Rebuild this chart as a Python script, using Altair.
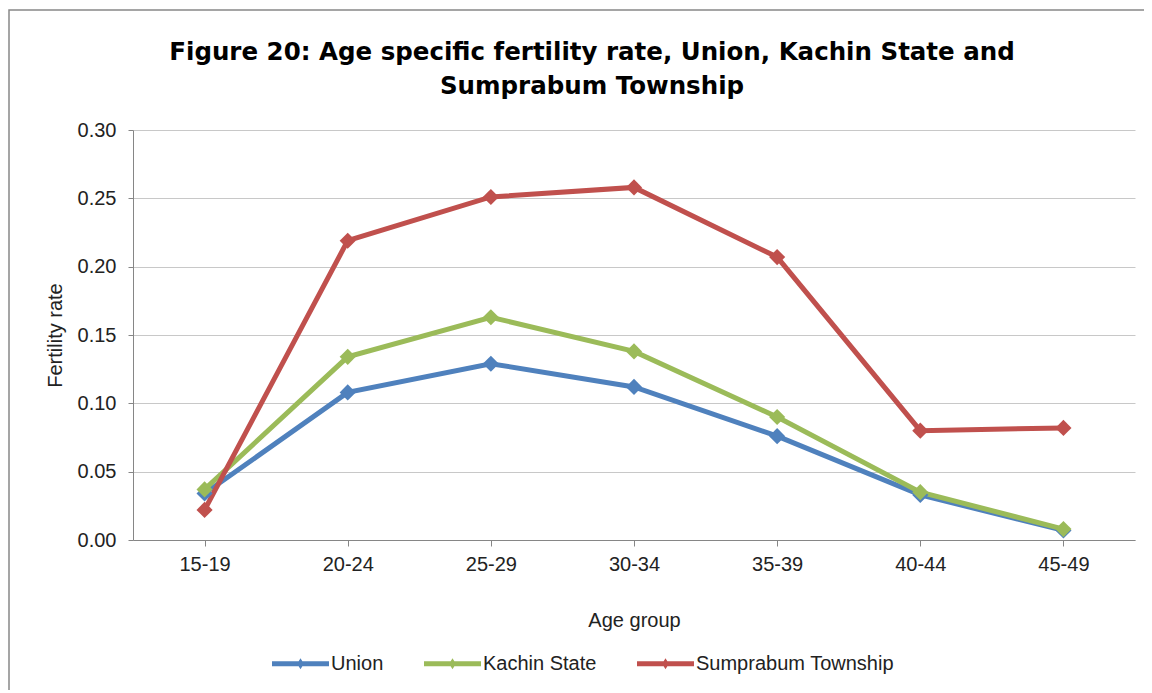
import altair as alt
import pandas as pd

ages = ["15-19", "20-24", "25-29", "30-34", "35-39", "40-44", "45-49"]
union = [0.034, 0.108, 0.129, 0.112, 0.076, 0.033, 0.007]
kachin = [0.037, 0.134, 0.163, 0.138, 0.090, 0.035, 0.008]
sumprabum = [0.022, 0.219, 0.251, 0.258, 0.207, 0.080, 0.082]
series = ["Union", "Kachin State", "Sumprabum Township"]
colors = ["#4F81BD", "#9BBB59", "#C0504D"]
title_lines = ["Figure 20: Age specific fertility rate, Union, Kachin State and",
               "Sumprabum  Township"]

rows = []
for name, vals in zip(series, [union, kachin, sumprabum]):
    for a, v in zip(ages, vals):
        rows.append({"Age group": a, "Fertility rate": v, "Series": name})
df = pd.DataFrame(rows)

W, H = 1002, 410
font = "Liberation Sans"
fs = 20

x = alt.X("Age group:N", sort=ages, scale=alt.Scale(paddingInner=0, paddingOuter=0),
          axis=alt.Axis(title="Age group", labelAngle=0, bandPosition=0, grid=False,
                        labelFontSize=fs, titleFontSize=fs, titleFontWeight="normal",
                        labelColor="#222", titleColor="#222", labelPadding=8, titlePadding=36,
                        domainColor="#868686", tickColor="#868686", tickSize=6,
                        labelBound=False, labelFlush=False))
y = alt.Y("Fertility rate:Q", scale=alt.Scale(domain=[0, 0.30], nice=False),
          axis=alt.Axis(title="Fertility rate", values=[0, 0.05, 0.1, 0.15, 0.2, 0.25, 0.3],
                        format=".2f", labelFontSize=fs, titleFontSize=fs, titleFontWeight="normal",
                        labelColor="#222", titleColor="#222", labelPadding=12, titlePadding=12,
                        gridColor="#C8C8C8", domainColor="#868686", tickColor="#868686", tickSize=5))
color = alt.Color("Series:N", scale=alt.Scale(domain=series, range=colors),
                  legend=alt.Legend(title=None, orient="none", legendX=139, legendY=505,
                                    direction="horizontal", labelFontSize=fs, labelColor="#222",
                                    labelLimit=400,
                                    symbolType="M-1,-0.09H1V0.09H-1Z M0,-0.19L0.12,0L0,0.19L-0.12,0Z",
                                    symbolSize=3249, symbolStrokeWidth=0, columnPadding=40,
                                    labelOffset=2))

base = alt.Chart(df)
lines = base.mark_line(strokeWidth=5).encode(x=x, y=y, color=color, detail="Series:N")
pts = base.mark_point(shape="diamond", filled=True, size=260, opacity=1).encode(
    x=x, y=y, color=color)

one = alt.Chart(pd.DataFrame({"k": [0]}))
frame = one.mark_rect(fill=None, stroke="#888", strokeWidth=1.5).encode(
    x=alt.value(-124), x2=alt.value(1030), y=alt.value(-120), y2=alt.value(580))
tfont = "DejaVu Sans"
t1 = one.mark_text(font=tfont, fontSize=24.5, fontWeight="bold", color="#000", align="center",
                   baseline="alphabetic").encode(x=alt.value(459), y=alt.value(-70),
                                                 text=alt.value(title_lines[0]))
t2 = one.mark_text(font=tfont, fontSize=24.5, fontWeight="bold", color="#000", align="center",
                   baseline="alphabetic").encode(x=alt.value(459), y=alt.value(-36),
                                                 text=alt.value(title_lines[1]))

chart = alt.layer(frame, lines, pts, t1, t2).properties(
    width=W, height=H,
    autosize=alt.AutoSizeParams(type="none"),
    padding={"left": 125, "top": 122, "right": 9, "bottom": 150},
).configure(font=font).configure_view(stroke=None)

chart.save("out.html", embed_options={"renderer": "svg", "actions": False})
